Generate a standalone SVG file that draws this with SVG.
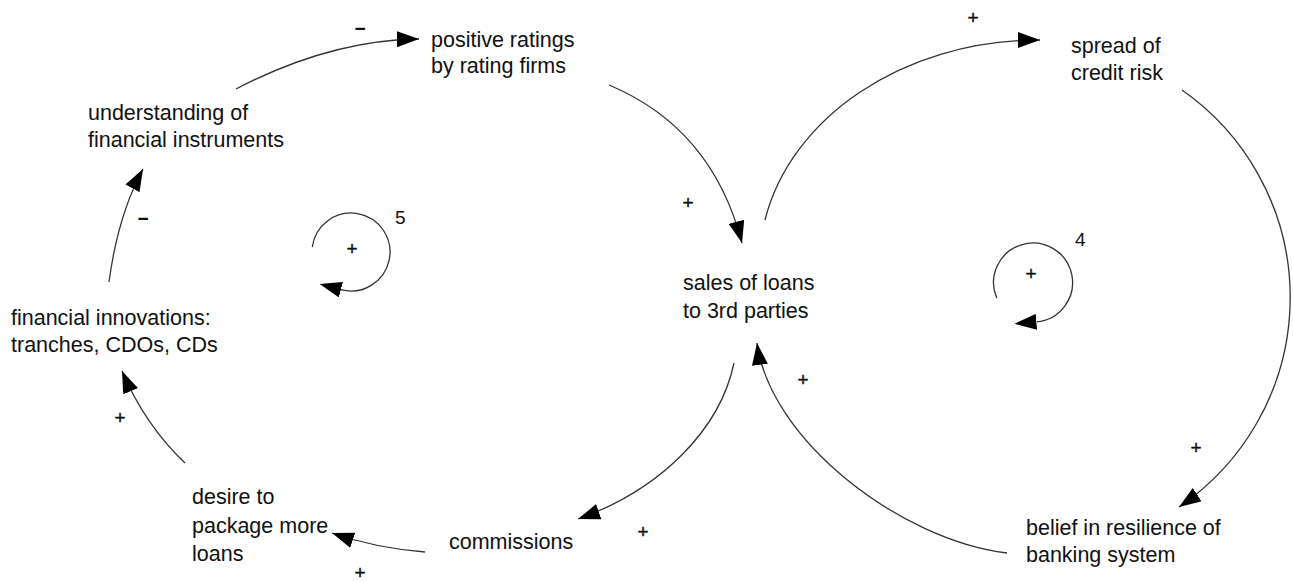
<svg xmlns="http://www.w3.org/2000/svg" width="1293" height="582" viewBox="0 0 1293 582">
  <style>
    .lbl { font-family: "Liberation Sans", Arial, sans-serif; font-size: 21.5px; fill: #111; }
    .sign { font-family: "Liberation Sans", Arial, sans-serif; font-size: 19px; fill: #111; stroke: #111; stroke-width: 0.4; text-anchor: middle; dominant-baseline: central; }
    .neg { font-family: "Liberation Sans", Arial, sans-serif; font-size: 19px; font-weight: bold; fill: #111; text-anchor: middle; dominant-baseline: central; }
    .num { font-family: "Liberation Sans", Arial, sans-serif; font-size: 19px; fill: #111; }
    .link { fill: none; stroke: #333; stroke-width: 1.3; }
  </style>
  <defs>
    <marker id="arr" markerUnits="userSpaceOnUse" viewBox="0 0 22 16" refX="22" refY="8" markerWidth="22" markerHeight="16" orient="auto">
      <path d="M0,0 L22,8 L0,16 z" fill="#000"/>
    </marker>
    <marker id="loopArr" markerUnits="userSpaceOnUse" viewBox="0 0 22 16" refX="0" refY="8" markerWidth="22" markerHeight="16" orient="auto">
      <path d="M0,0 L22,8 L0,16 z" fill="#000"/>
    </marker>
  </defs>
  <rect width="1293" height="582" fill="#fff"/>

  <g id="connectors">
    <path class="link" marker-end="url(#arr)" d="M236,89 Q330,40 419,39"/>
    <path class="link" marker-end="url(#arr)" d="M609,85 Q712,128 742,243"/>
    <path class="link" marker-end="url(#arr)" d="M765,220 C790,120 900,40 1040,40"/>
    <path class="link" marker-end="url(#arr)" d="M1182,90 A253,253 0 0 1 1179,507"/>
    <path class="link" marker-end="url(#arr)" d="M1007,553 C900,540 770,440 757,343"/>
    <path class="link" marker-end="url(#arr)" d="M734,363 C720,430 660,490 578,519"/>
    <path class="link" marker-end="url(#arr)" d="M425,552 Q375,548 332,533"/>
    <path class="link" marker-end="url(#arr)" d="M185,463 Q145,425 122,371"/>
    <path class="link" marker-end="url(#arr)" d="M109,282 Q118,215 143,169"/>
    <text class="neg" x="360" y="28">−</text>
    <text class="sign" x="688" y="202">+</text>
    <text class="sign" x="973" y="17">+</text>
    <text class="sign" x="1196" y="447">+</text>
    <text class="sign" x="803" y="379">+</text>
    <text class="sign" x="643" y="531">+</text>
    <text class="sign" x="360" y="572">+</text>
    <text class="sign" x="120" y="417">+</text>
    <text class="neg" x="143" y="218">−</text>
  </g>

  <g id="loop5">
    <path class="link" marker-end="url(#loopArr)" d="M312.3,247.2 A39,39 0 1 1 340.9,289.7"/>
    <text class="sign" x="352" y="248">+</text>
    <text class="num" x="395" y="224">5</text>
  </g>
  <g id="loop4">
    <path class="link" marker-end="url(#loopArr)" d="M996.8,298.2 A39.5,39.5 0 1 1 1036.4,321.9"/>
    <text class="sign" x="1031" y="273">+</text>
    <text class="num" x="1075" y="246">4</text>
  </g>

  <g id="node-positive-ratings">
    <text class="lbl" x="431" y="47">positive ratings</text>
    <text class="lbl" x="431" y="73">by rating firms</text>
  </g>
  <g id="node-understanding">
    <text class="lbl" x="88" y="120">understanding of</text>
    <text class="lbl" x="88" y="147">financial instruments</text>
  </g>
  <g id="node-innovations">
    <text class="lbl" x="11" y="325">financial innovations:</text>
    <text class="lbl" x="11" y="352">tranches, CDOs, CDs</text>
  </g>
  <g id="node-desire">
    <text class="lbl" x="192" y="504">desire to</text>
    <text class="lbl" x="192" y="533">package more</text>
    <text class="lbl" x="192" y="561">loans</text>
  </g>
  <g id="node-commissions">
    <text class="lbl" x="449" y="549">commissions</text>
  </g>
  <g id="node-sales">
    <text class="lbl" x="683" y="290">sales of loans</text>
    <text class="lbl" x="683" y="318">to 3rd parties</text>
  </g>
  <g id="node-spread">
    <text class="lbl" x="1071" y="53">spread of</text>
    <text class="lbl" x="1071" y="80">credit risk</text>
  </g>
  <g id="node-belief">
    <text class="lbl" x="1026" y="535">belief in resilience of</text>
    <text class="lbl" x="1026" y="562">banking system</text>
  </g>
</svg>
